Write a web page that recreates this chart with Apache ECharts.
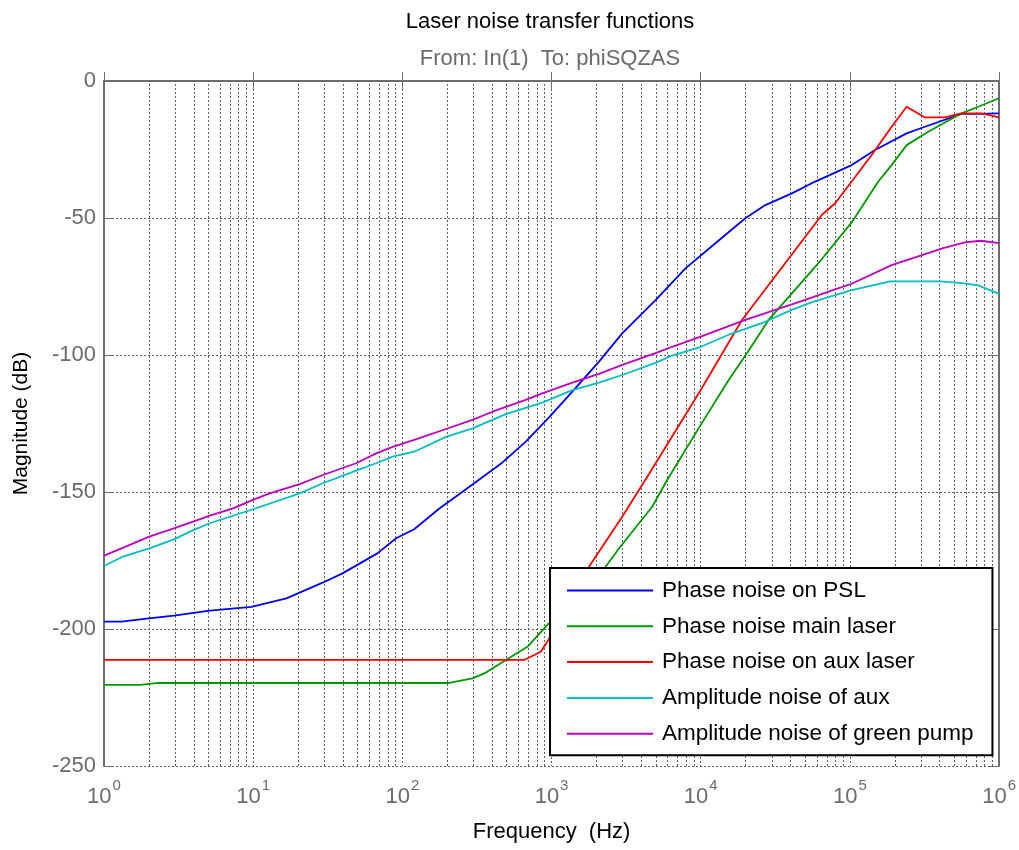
<!DOCTYPE html>
<html>
<head>
<meta charset="utf-8">
<script src="https://cdn.jsdelivr.net/npm/echarts@6/dist/echarts.min.js"></script>
<style>
  html, body { margin: 0; padding: 0; background: #ffffff; }
  #chart { width: 1019px; height: 850px; }
</style>
</head>
<body>
<div id="chart"></div>
<script>
// ---- Data (frequency in Hz, magnitude in dB) ----
const titleText = 'Laser noise transfer functions';
const subtitleText = 'From: In(1)  To: phiSQZAS';
const xAxisName = 'Frequency  (Hz)';
const yAxisName = 'Magnitude (dB)';
const seriesNames = ['Phase noise on PSL', 'Phase noise main laser', 'Phase noise on aux laser', 'Amplitude noise of aux', 'Amplitude noise of green pump'];

const pslFreq = [1, 1.31, 2, 2.94, 5.12, 9.73, 16.7, 29.2, 39.7, 68, 90.8, 120, 177, 267, 469, 672, 962, 1378, 2080, 2976, 4980, 7900, 12540, 19900, 27100, 40800, 58500, 102800, 147400, 240000, 318600, 560000, 724000, 1000000];
const pslDb = [-197.3, -197.3, -196.1, -195.1, -193.3, -191.9, -188.8, -183.1, -179.7, -172.4, -166.9, -163.6, -156, -149, -139.2, -131.6, -122.8, -113.4, -102.4, -92.1, -80, -68.4, -59.2, -50.1, -45.3, -41, -36.7, -30.7, -25.2, -19.1, -16.7, -12, -12, -11.8];

const mainFreq = [1, 1.74, 2.31, 206, 295, 363, 494, 689, 938, 2305, 2830, 4725, 5955, 10000, 15400, 20400, 28500, 61500, 102800, 155000, 190400, 240000, 335000, 560000, 724000, 1000000];
const mainDb = [-220.4, -220.4, -219.7, -219.7, -218, -215.9, -211.3, -206.5, -198.5, -177.3, -170.6, -155.4, -145.6, -125.5, -109.1, -99.4, -87.2, -66.5, -51.6, -36.7, -30.7, -23.4, -18.5, -11.8, -9.4, -6.3];

const auxFreq = [1, 655, 847, 938, 1782, 2188, 2976, 4490, 10000, 18900, 43000, 64800, 79600, 102800, 140000, 190400, 240000, 318600, 432500, 560000, 762000, 1000000];
const auxDb = [-211.3, -211.3, -208.3, -204.6, -177.3, -170, -159, -143.5, -112.8, -87.2, -61.7, -48.9, -44.6, -36.7, -27, -16.7, -9.4, -13.3, -13.3, -11.8, -11.8, -13.3];

const ampAuxFreq = [1, 1.31, 2.01, 2.94, 3.96, 5.12, 9.97, 20.5, 29.3, 49, 66.7, 86, 120, 196, 295, 494, 867, 1378, 2080, 2976, 4980, 6430, 10000, 15400, 25700, 40300, 57000, 102800, 186600, 403000, 560000, 724000, 1000000];
const ampAuxDb = [-177, -173.8, -170.6, -167.3, -163.9, -161.4, -156.3, -150.5, -146.8, -142.2, -139.5, -137.1, -135.3, -129.9, -126.8, -121.6, -117.4, -112.8, -110.1, -107.3, -102.9, -100.2, -97, -92.6, -88.4, -83.6, -80.5, -76.3, -73.1, -73.1, -73.8, -74.6, -77.7];

const pumpFreq = [1, 1.31, 2.01, 2.94, 3.96, 5.12, 7.33, 9.97, 12.9, 20.5, 29.3, 49, 66.7, 86, 120, 196, 295, 402, 494, 672, 867, 1378, 2080, 2976, 4980, 6430, 10000, 19900, 50200, 71800, 102800, 190400, 422000, 590000, 752000, 1000000];
const pumpDb = [-173.2, -170.6, -166.3, -163.3, -160.8, -158.6, -156, -152.9, -150.5, -147.1, -143.8, -139.5, -135.9, -133.5, -131, -127, -123.7, -120.7, -118.9, -116.4, -114, -110.1, -106.9, -103.6, -99.3, -97, -93.3, -87.2, -79.9, -76.9, -74, -67.2, -61, -58.9, -58.3, -59.2];

const seriesColors = ['#0000ff', '#009a00', '#ff0000', '#00bfbf', '#bf00bf'];

// ---- chart ----
const FONT = '"Liberation Sans", Arial, Helvetica, sans-serif';
const AX = '#6e6e6e';
const GRIDC = '#606060';

function pairs(xs, ys) { return xs.map((x, i) => [x, ys[i]]); }

const minorGrid = [];
for (let d = 0; d < 6; d++) {
  for (let k = 2; k <= 9; k++) minorGrid.push({ xAxis: k * Math.pow(10, d) });
}

const dataSets = [
  pairs(pslFreq, pslDb),
  pairs(mainFreq, mainDb),
  pairs(auxFreq, auxDb),
  pairs(ampAuxFreq, ampAuxDb),
  pairs(pumpFreq, pumpDb)
];

const series = dataSets.map((d, i) => ({
  name: seriesNames[i],
  type: 'line',
  data: d,
  symbol: 'none',
  showSymbol: false,
  z: 3,
  lineStyle: { color: seriesColors[i], width: 1.8 },
  itemStyle: { color: seriesColors[i] },
  emphasis: { disabled: true }
}));

series[0].markLine = {
  silent: true,
  z: 1,
  symbol: 'none',
  label: { show: false },
  emphasis: { disabled: true },
  animation: false,
  lineStyle: { color: GRIDC, type: [2, 2], width: 1 },
  data: minorGrid
};

const xLabelFmt = v => {
  const e = Math.round(Math.log10(v));
  return '{b|10}{s|' + e + '}';
};

const chart = echarts.init(document.getElementById('chart'), null, { renderer: 'canvas' });
chart.setOption({
  animation: false,
  backgroundColor: '#ffffff',
  textStyle: { fontFamily: FONT },
  title: [
    { text: titleText, left: 545, textAlign: 'center', top: 6,
      textStyle: { fontFamily: FONT, fontSize: 22, fontWeight: 'normal', color: '#000000' } },
    { text: subtitleText, left: 545, textAlign: 'center', top: 43,
      textStyle: { fontFamily: FONT, fontSize: 22, fontWeight: 'normal', color: '#6b6b6b' } }
  ],
  grid: { left: 104, right: 18, top: 81, bottom: 84, containLabel: false },
  legend: {
    orient: 'vertical',
    left: 550, top: 568,
    backgroundColor: '#ffffff',
    borderColor: '#000000',
    borderWidth: 2,
    borderRadius: 0,
    padding: [11, 19, 10, 17],
    icon: 'rect',
    itemWidth: 86,
    itemHeight: 2,
    itemGap: 12.8,
    selectedMode: false,
    data: seriesNames,
    textStyle: { fontFamily: FONT, fontSize: 22.5, color: '#000000', lineHeight: 22, padding: [0, 0, 0, 4] }
  },
  xAxis: [
    {
      type: 'log', logBase: 10, min: 1, max: 1000000,
      name: xAxisName, nameLocation: 'middle', nameGap: 55,
      nameTextStyle: { fontFamily: FONT, fontSize: 22, color: '#000000' },
      axisLine: { show: true, lineStyle: { color: AX, width: 2 } },
      axisTick: { show: true, inside: true, length: 9, lineStyle: { color: AX, width: 1 } },
      axisLabel: {
        formatter: xLabelFmt, margin: 12,
        rich: {
          b: { fontFamily: FONT, fontSize: 22, color: '#6b6b6b', verticalAlign: 'bottom' },
          s: { fontFamily: FONT, fontSize: 15, color: '#6b6b6b', verticalAlign: 'bottom', padding: [0, 0, 15, 1] }
        }
      },
      splitLine: { show: true, lineStyle: { color: GRIDC, type: [2, 2], width: 1 } }
    },
    {
      type: 'log', logBase: 10, min: 1, max: 1000000, position: 'top',
      axisLine: { show: true, lineStyle: { color: AX, width: 2 } },
      axisTick: { show: true, inside: true, length: 9, lineStyle: { color: AX, width: 1 } },
      axisLabel: { show: false },
      splitLine: { show: false }
    }
  ],
  yAxis: [
    {
      type: 'value', min: -250, max: 0, interval: 50,
      name: yAxisName, nameLocation: 'middle', nameGap: 72, nameRotate: 90,
      nameTextStyle: { fontFamily: FONT, fontSize: 21, color: '#000000' },
      axisLine: { show: true, lineStyle: { color: AX, width: 2 } },
      axisTick: { show: true, inside: true, length: 9, lineStyle: { color: AX, width: 1 } },
      axisLabel: { fontFamily: FONT, fontSize: 22, color: '#6b6b6b', margin: 8 },
      splitLine: { show: true, lineStyle: { color: GRIDC, type: [2, 2], width: 1 } }
    },
    {
      type: 'value', min: -250, max: 0, interval: 50, position: 'right',
      axisLine: { show: true, lineStyle: { color: AX, width: 2 } },
      axisTick: { show: true, inside: true, length: 9, lineStyle: { color: AX, width: 1 } },
      axisLabel: { show: false },
      splitLine: { show: false }
    }
  ],
  series: series
});
</script>
</body>
</html>
